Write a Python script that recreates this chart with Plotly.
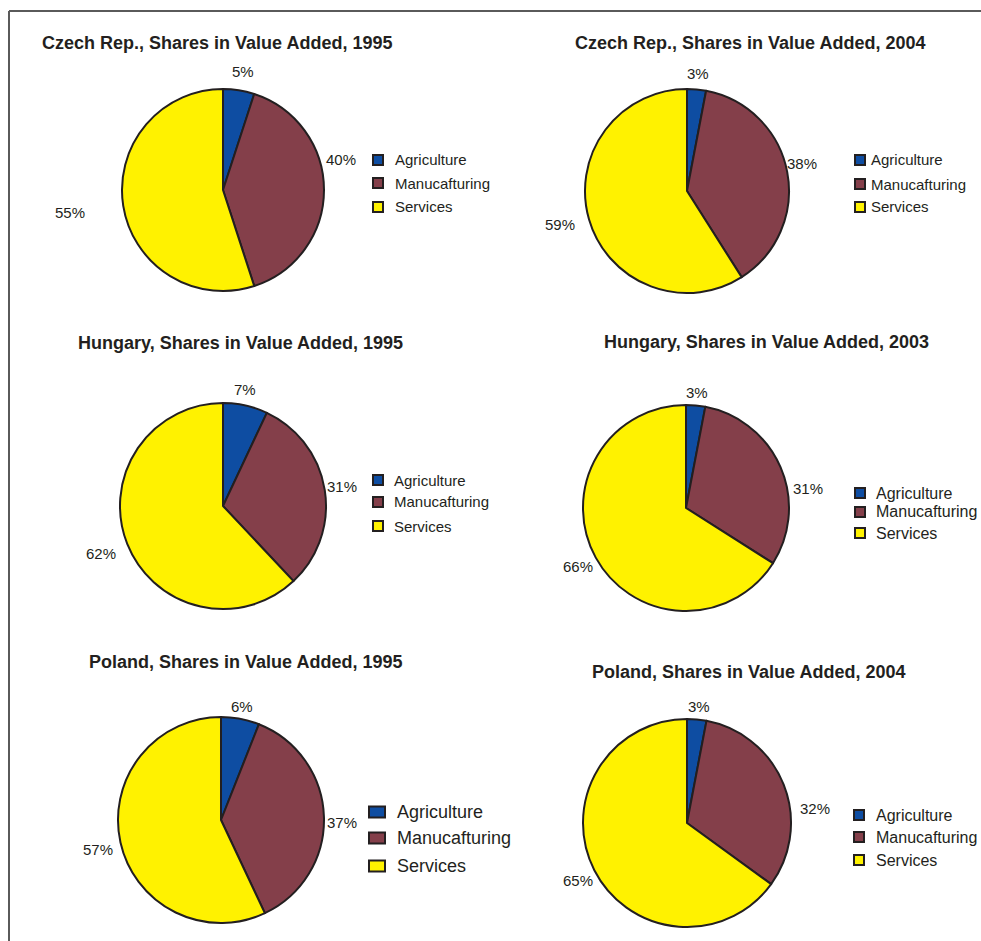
import plotly.graph_objects as go

W, H = 981, 941

# Sector shares of value added (percent)
sectors = ["Agriculture", "Manucafturing", "Services"]
titles = [
    "Czech Rep., Shares in Value Added, 1995",
    "Czech Rep., Shares in Value Added, 2004",
    "Hungary, Shares in Value Added, 1995",
    "Hungary, Shares in Value Added, 2003",
    "Poland, Shares in Value Added, 1995",
    "Poland, Shares in Value Added, 2004",
]
czech_1995 = [5, 40, 55]
czech_2004 = [3, 38, 59]
hungary_1995 = [7, 31, 62]
hungary_2003 = [3, 31, 66]
poland_1995 = [6, 37, 57]
poland_2004 = [3, 32, 65]
series = [czech_1995, czech_2004, hungary_1995, hungary_2003, poland_1995, poland_2004]

colors = ["#0E4DA2", "#843F4A", "#FFF200"]
ink = "#231F20"
font = "Arial, Liberation Sans, sans-serif"

# Panel layout in pixels: pie centre, radius, title centre, label points, legend
panels = [
    dict(c=(223, 190), r=101, t=(217, 43),
         lab=[(243, 72), (341, 159), (70, 212)],
         leg=(378, [160, 183, 207]), sq=(10, 10), lfs=15, ltx=393),
    dict(c=(687, 191), r=102, t=(750, 43),
         lab=[(698, 73), (802, 163), (560, 224)],
         leg=(860, [160, 184, 207]), sq=(10, 10), lfs=15, ltx=869),
    dict(c=(223, 506), r=103, t=(240, 343),
         lab=[(245, 390), (342, 486), (101, 553)],
         leg=(378, [480, 502, 526]), sq=(10, 10), lfs=15, ltx=392),
    dict(c=(686, 508), r=103, t=(766, 342),
         lab=[(697, 392), (808, 488), (578, 566)],
         leg=(860, [493, 512, 533]), sq=(10, 10), lfs=16, ltx=874),
    dict(c=(221, 820), r=103, t=(245, 662),
         lab=[(242, 706), (342, 822), (98, 849)],
         leg=(377, [812, 838, 866]), sq=(16, 11), lfs=18, ltx=395),
    dict(c=(687, 823), r=104, t=(748, 672),
         lab=[(699, 706), (815, 808), (578, 880)],
         leg=(859, [815, 837, 860]), sq=(10, 10), lfs=16, ltx=874),
]


def px(x):
    return x / W


def py(y):
    return 1 - y / H


fig = go.Figure()
annotations = []
shapes = []

for vals, title, p in zip(series, titles, panels):
    cx, cy = p["c"]
    r = p["r"]
    fig.add_trace(go.Pie(
        labels=sectors,
        values=vals,
        sort=False,
        direction="clockwise",
        rotation=0,
        textinfo="none",
        hoverinfo="label+percent",
        showlegend=False,
        marker=dict(colors=colors, line=dict(color=ink, width=2)),
        domain=dict(x=[px(cx - r), px(cx + r)], y=[py(cy + r), py(cy - r)]),
    ))
    annotations.append(dict(
        text="<b>%s</b>" % title, x=px(p["t"][0]), y=py(p["t"][1]),
        xref="paper", yref="paper", xanchor="center", yanchor="middle",
        showarrow=False, font=dict(family=font, size=18, color=ink),
    ))
    total = sum(vals)
    for v, (lx, ly) in zip(vals, p["lab"]):
        annotations.append(dict(
            text="%d%%" % round(100 * v / total), x=px(lx), y=py(ly),
            xref="paper", yref="paper", xanchor="center", yanchor="middle",
            showarrow=False, font=dict(family=font, size=15, color=ink),
        ))
    lx, rows = p["leg"]
    sw, sh = p["sq"]
    for name, col, ry in zip(sectors, colors, rows):
        shapes.append(dict(
            type="rect", xref="paper", yref="paper",
            x0=px(lx - sw / 2), x1=px(lx + sw / 2),
            y0=py(ry + sh / 2), y1=py(ry - sh / 2),
            fillcolor=col, line=dict(color=ink, width=2),
        ))
        annotations.append(dict(
            text=name, x=px(p["ltx"]), y=py(ry),
            xref="paper", yref="paper", xanchor="left", yanchor="middle",
            showarrow=False, font=dict(family=font, size=p["lfs"], color=ink),
        ))

# Frame along the top and left edges
shapes.append(dict(type="line", xref="paper", yref="paper",
                   x0=px(9), x1=1.0, y0=py(11), y1=py(11),
                   line=dict(color="#5A5A5A", width=2)))
shapes.append(dict(type="line", xref="paper", yref="paper",
                   x0=px(9), x1=px(9), y0=py(11), y1=0.0,
                   line=dict(color="#5A5A5A", width=2)))

fig.update_layout(
    width=W, height=H,
    margin=dict(l=0, r=0, t=0, b=0),
    paper_bgcolor="white", plot_bgcolor="white",
    annotations=annotations, shapes=shapes,
    showlegend=False,
)

fig.write_html("out.html")
